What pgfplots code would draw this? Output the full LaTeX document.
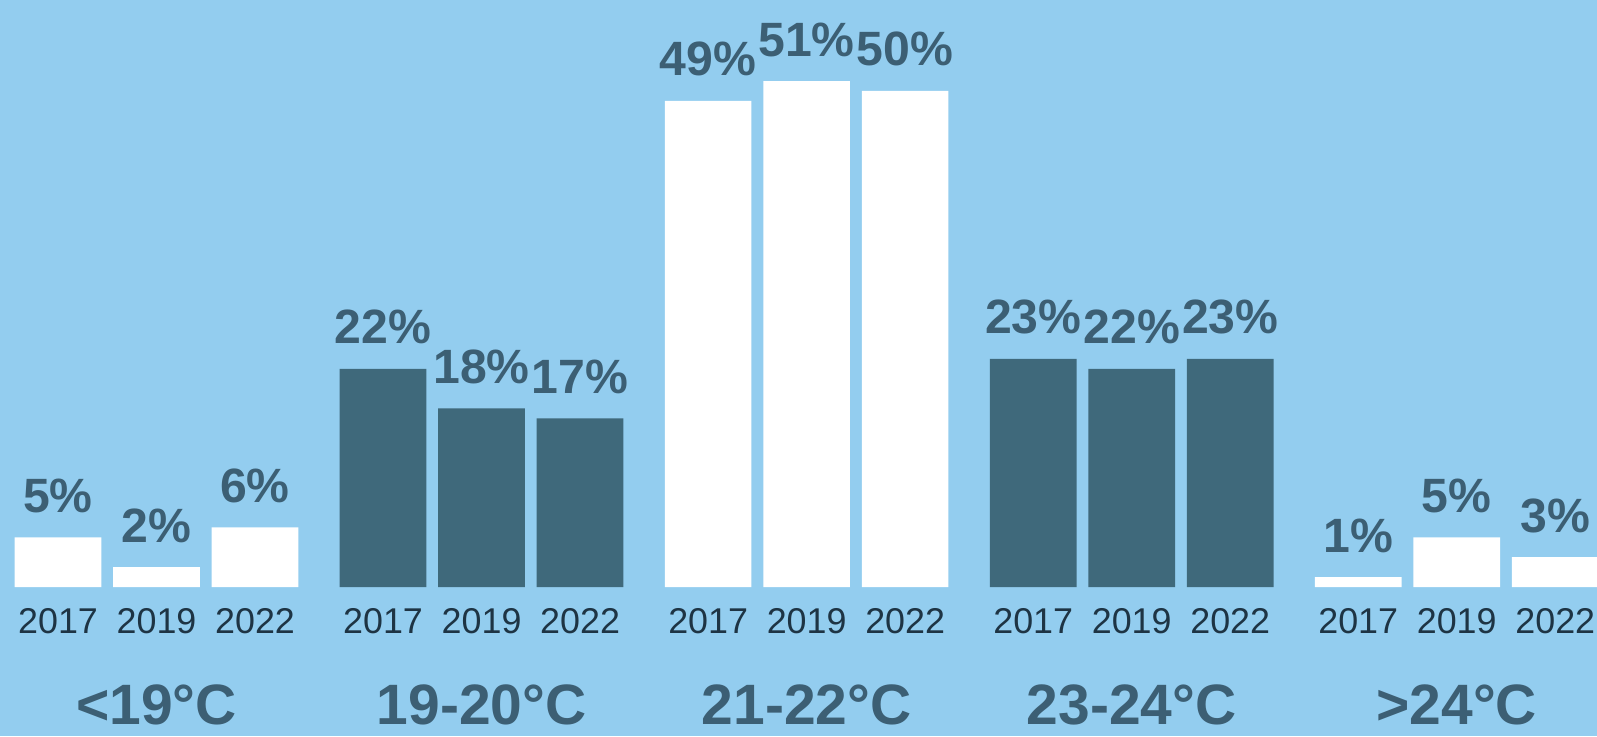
\documentclass[border=0pt]{standalone}
\usepackage{fontspec}
\setmainfont{Liberation Sans}
\usepackage{pgfplots}
\pgfplotsset{compat=1.18}
\definecolor{bgblue}{RGB}{147,205,239}
\definecolor{slate}{RGB}{63,105,123}
\definecolor{labeltext}{RGB}{60,95,116}
\definecolor{yeartext}{RGB}{30,52,68}

\begin{document}
\begin{tikzpicture}
\begin{axis}[
  at={(0,0)}, anchor=south west,
  scale only axis, width=15.97cm, height=7.36cm,
  xmin=-1.589, xmax=14.624, ymin=-15.02, ymax=59.17,
  axis background/.style={fill=bgblue},
  axis x line=middle, axis y line=none,
  axis line style={draw=none},
  xtick={-1,0,1,2.3,3.3,4.3,5.6,6.6,7.6,8.9,9.9,10.9,12.2,13.2,14.2},
  xticklabels={2017,2019,2022,2017,2019,2022,2017,2019,2022,2017,2019,2022,2017,2019,2022},
  xtick style={draw=none}, major tick length=0pt,
  xticklabel style={anchor=base, yshift=-4.6mm, font=\fontsize{10.2}{12}\selectfont, text=yeartext},
  ytick=\empty,
  clip=false,
  bar width=0.88,
  nodes near coords={\pgfmathprintnumber[assume math mode=true]{\pgfplotspointmeta}\%},
  every node near coord/.append style={anchor=base, yshift=2.5mm, font=\bfseries\fontsize{13.7}{16}\selectfont, text=labeltext},
]
% <19°C
\addplot[ybar, bar shift=0pt, fill=white, draw=none] coordinates {(-1,5) (0,2) (1,6)};
% 19-20°C
\addplot[ybar, bar shift=0pt, fill=slate, draw=none] coordinates {(2.3,22) (3.3,18) (4.3,17)};
% 21-22°C
\addplot[ybar, bar shift=0pt, fill=white, draw=none] coordinates {(5.6,49) (6.6,51) (7.6,50)};
% 23-24°C
\addplot[ybar, bar shift=0pt, fill=slate, draw=none] coordinates {(8.9,23) (9.9,22) (10.9,23)};
% >24°C
\addplot[ybar, bar shift=0pt, fill=white, draw=none] coordinates {(12.2,1) (13.2,5) (14.2,3)};

\tikzset{grp/.style={anchor=base, yshift=-13.7mm, font=\bfseries\fontsize{16.2}{19}\selectfont, text=labeltext}}
\node[grp] at (axis cs:0,0) {<19°C};
\node[grp] at (axis cs:3.3,0) {19-20°C};
\node[grp] at (axis cs:6.6,0) {21-22°C};
\node[grp] at (axis cs:9.9,0) {23-24°C};
\node[grp] at (axis cs:13.2,0) {>24°C};
\end{axis}
\pgfresetboundingbox
\useasboundingbox (0,0) rectangle (15.97cm,7.36cm);
\end{tikzpicture}
\end{document}
